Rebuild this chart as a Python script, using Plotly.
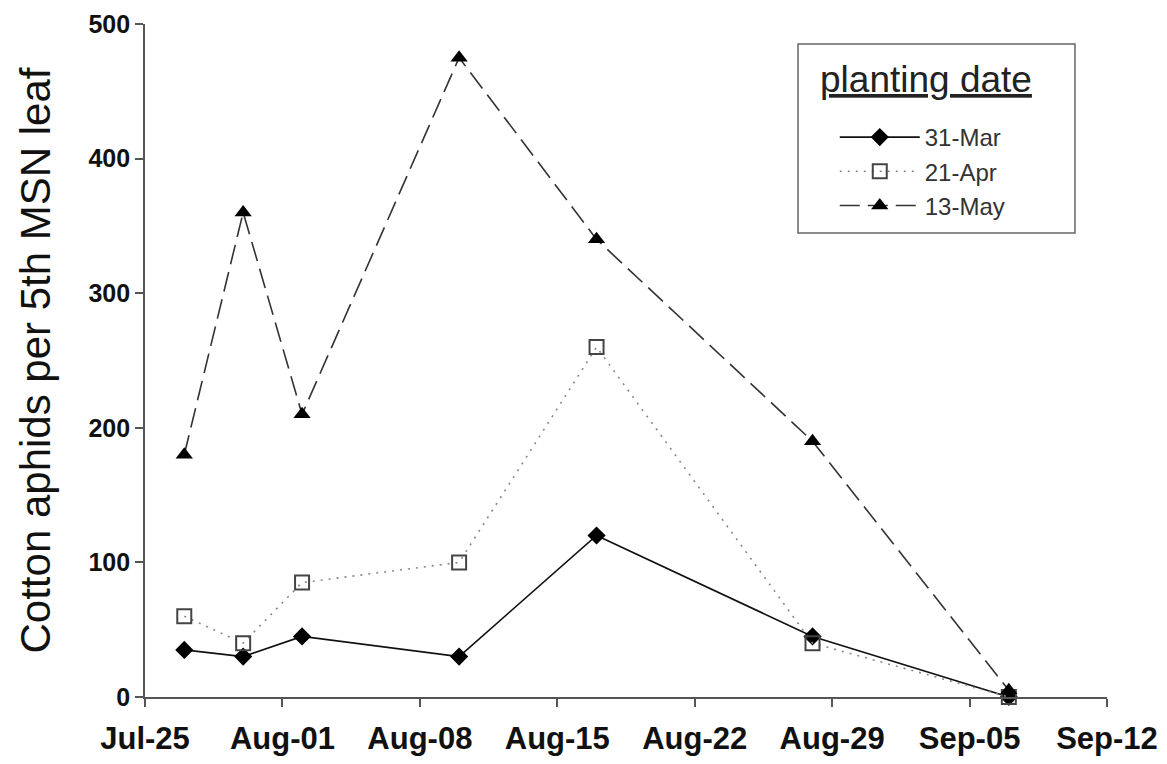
import plotly.graph_objects as go

dates = ["2008-07-27", "2008-07-30", "2008-08-02", "2008-08-10",
         "2008-08-17", "2008-08-28", "2008-09-07"]
mar31 = [35, 30, 45, 30, 120, 45, 0]
apr21 = [60, 40, 85, 100, 260, 40, 0]
may13 = [180, 360, 210, 475, 340, 190, 5]
tick_vals = ["2008-07-25", "2008-08-01", "2008-08-08", "2008-08-15",
             "2008-08-22", "2008-08-29", "2008-09-05", "2008-09-12"]
tick_text = ["Jul-25", "Aug-01", "Aug-08", "Aug-15",
             "Aug-22", "Aug-29", "Sep-05", "Sep-12"]
legend_title = "planting date"

FONT = "Liberation Sans, Arial, sans-serif"

fig = go.Figure()
fig.add_trace(go.Scatter(
    x=dates, y=mar31, name="31-Mar", mode="lines+markers",
    line=dict(color="#111111", width=1.6, dash="solid"),
    marker=dict(symbol="diamond", size=14, color="black"),
    cliponaxis=False))
fig.add_trace(go.Scatter(
    x=dates, y=apr21, name="21-Apr", mode="lines+markers",
    line=dict(color="#888888", width=1.6, dash="2px,6px"),
    marker=dict(symbol="square-open", size=14, color="#444444",
                line=dict(width=2)),
    cliponaxis=False))
fig.add_trace(go.Scatter(
    x=dates, y=may13, name="13-May", mode="lines+markers",
    line=dict(color="#333333", width=1.6, dash="20px,8px"),
    marker=dict(symbol="triangle-up", size=15, color="black"),
    cliponaxis=False))

# legend frame and title (decorations in paper coordinates)
fig.add_shape(type="rect", xref="paper", yref="paper",
              x0=0.6788, x1=0.9667, y0=0.6895, y1=0.9703,
              line=dict(color="#666666", width=1.5),
              fillcolor="white", layer="below")
fig.add_annotation(xref="paper", yref="paper", x=0.8119, y=0.918,
                   xanchor="center", yanchor="middle", showarrow=False,
                   text="<u>" + legend_title + "</u>",
                   font=dict(size=37, color="#222222", family=FONT))

fig.update_layout(
    width=1167, height=764,
    margin=dict(l=137, r=68, t=16, b=75, autoexpand=False),
    paper_bgcolor="white", plot_bgcolor="white",
    font=dict(family=FONT, color="#111111"),
    showlegend=True,
    legend=dict(
        x=0.717, y=0.8648, xanchor="left", yanchor="top",
        borderwidth=0, bgcolor="rgba(0,0,0,0)",
        font=dict(size=24, color="#333333", family=FONT),
        itemwidth=80, tracegroupgap=0,
    ),
)
fig.update_xaxes(
    type="date",
    range=["2008-07-25", "2008-09-12"],
    tickvals=tick_vals, ticktext=tick_text,
    ticks="outside", ticklen=8, tickwidth=1.8, tickcolor="#555555",
    showline=True, linecolor="#555555", linewidth=1.8,
    showgrid=False, zeroline=False, automargin=False,
    ticklabelstandoff=5,
    tickfont=dict(size=31, family=FONT, color="#111111", weight="bold"),
)
fig.update_yaxes(
    range=[0, 500], tickvals=[0, 100, 200, 300, 400, 500],
    ticks="outside", ticklen=8, tickwidth=1.8, tickcolor="#555555",
    showline=True, linecolor="#555555", linewidth=1.8,
    showgrid=False, zeroline=False, automargin=False,
    tickfont=dict(size=25, family=FONT, color="#111111", weight="bold"),
    title=dict(text="Cotton aphids per 5th MSN leaf",
               font=dict(size=42, color="#111111", family=FONT),
               standoff=25),
)

fig.write_html("out.html")
